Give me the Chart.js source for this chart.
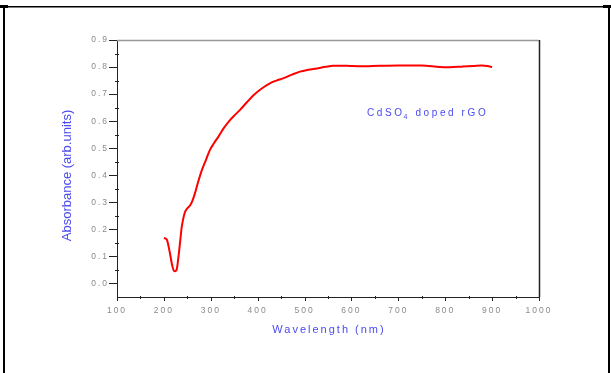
<!DOCTYPE html>
<html>
<head>
<meta charset="utf-8">
<script src="https://cdn.jsdelivr.net/npm/chart.js@4"></script>
<style>
  html, body { margin: 0; padding: 0; background: #fff; }
  #wrap { width: 611px; height: 373px; }
</style>
</head>
<body>
<div id="wrap"><canvas id="chart" width="611" height="373"></canvas></div>
<script>
// data
const wavelength = [200, 206, 212, 218, 222, 227, 231, 235, 238, 242, 245, 250, 256, 261, 266, 273, 281, 290, 298, 307, 316, 328, 341, 352, 362, 376, 391, 408, 426, 440, 454, 472, 490, 508, 526, 545, 561, 580, 597, 620, 661, 700, 750, 788, 810, 838, 860, 878, 890, 900];
const absorbance = [0.168, 0.163, 0.12, 0.065, 0.045, 0.05, 0.097, 0.16, 0.208, 0.245, 0.264, 0.278, 0.289, 0.306, 0.332, 0.375, 0.419, 0.458, 0.493, 0.519, 0.542, 0.575, 0.604, 0.624, 0.641, 0.668, 0.696, 0.72, 0.74, 0.75, 0.758, 0.771, 0.783, 0.79, 0.795, 0.801, 0.805, 0.805, 0.804, 0.803, 0.805, 0.806, 0.806, 0.8, 0.799, 0.802, 0.804, 0.806, 0.804, 0.8];

const xMin = 100, xMax = 1000, xStep = 50;
const yMin = -0.05, yMax = 0.9, yStep = 0.05;
const xTitle = 'Wavelength (nm)';
const yTitle = 'Absorbance (arb.units)';
const seriesName = 'CdSO4 doped rGO';
const noteAt = { x: 633, y: 0.63 };

const blue = '#4a4af0';
const tickGrey = '#8a8a8a';
const fontFam = '"Liberation Sans", Arial, sans-serif';

// ticks, frame, axis titles and the sample note
const extras = {
  id: 'extras',
  beforeDraw(chart) {
    // wide spacing for the tick numbers, like the original
    chart.ctx.letterSpacing = '2px';
  },
  afterDraw(chart) {
    const { ctx, chartArea: a, scales: { x, y } } = chart;
    ctx.save();
    ctx.letterSpacing = '0px';

    // top (grey) and right (black) sides of the plot box
    ctx.lineWidth = 1.5;
    ctx.strokeStyle = '#999';
    ctx.beginPath();
    ctx.moveTo(a.left, a.top + 0.5);
    ctx.lineTo(a.right, a.top + 0.5);
    ctx.stroke();
    ctx.strokeStyle = '#222';
    ctx.beginPath();
    ctx.moveTo(a.right + 0.5, a.top);
    ctx.lineTo(a.right + 0.5, a.bottom);
    ctx.stroke();

    // tick marks
    ctx.lineWidth = 1;
    ctx.strokeStyle = '#222';
    for (let v = xMin; v <= xMax; v += xStep) {
      const px = Math.round(x.getPixelForValue(v)) + 0.5;
      const major = v % 100 === 0;
      ctx.beginPath();
      ctx.moveTo(px, a.bottom - (major ? 0 : 1));
      ctx.lineTo(px, a.bottom + (major ? 4 : 2));
      ctx.stroke();
    }
    for (let i = 1; i <= 19; i++) {
      const v = yMin + i * yStep;
      const py = Math.round(y.getPixelForValue(v)) + 0.5;
      const major = i % 2 === 1;
      ctx.beginPath();
      ctx.moveTo(a.left - (major ? 8 : 2), py);
      ctx.lineTo(a.left + (major ? 0 : 2), py);
      ctx.stroke();
    }

    ctx.fillStyle = blue;
    ctx.textBaseline = 'middle';

    // x title
    ctx.textAlign = 'center';
    ctx.letterSpacing = '2px';
    ctx.font = '11px ' + fontFam;
    ctx.fillText(xTitle, (a.left + a.right) / 2 + 1, a.bottom + 33);

    // y title
    ctx.save();
    ctx.translate(67, (a.top + a.bottom) / 2 + 7);
    ctx.rotate(-Math.PI / 2);
    ctx.letterSpacing = '0px';
    ctx.font = '13px ' + fontFam;
    ctx.fillText(yTitle, 0, 0);
    ctx.restore();

    // sample note with subscript
    ctx.textAlign = 'left';
    ctx.letterSpacing = '2.6px';
    ctx.font = '10px ' + fontFam;
    let nx = x.getPixelForValue(noteAt.x);
    const ny = y.getPixelForValue(noteAt.y);
    const main = seriesName.slice(0, 4);
    const sub = seriesName.slice(4, 5);
    const rest = seriesName.slice(5);
    ctx.fillText(main, nx, ny);
    nx += ctx.measureText(main).width;
    ctx.font = '7px ' + fontFam;
    ctx.fillText(sub, nx - 1, ny + 4);
    nx += ctx.measureText(sub).width - 1;
    ctx.font = '10px ' + fontFam;
    ctx.fillText(rest, nx, ny);

    // page borders
    ctx.letterSpacing = '0px';
    ctx.fillStyle = '#000';
    ctx.fillRect(0, 6, 611, 1.5);
    ctx.fillRect(0, 5, 8, 3);
    ctx.fillRect(603, 5, 8, 3);
    ctx.fillRect(3, 6, 2, 367);
    ctx.fillRect(608, 6, 2, 367);
    ctx.restore();
  }
};

const chart = new Chart(document.getElementById('chart'), {
  type: 'line',
  data: {
    datasets: [{
      label: seriesName,
      data: wavelength.map((w, i) => ({ x: w, y: absorbance[i] })),
      borderColor: '#ff0000',
      borderWidth: 2,
      pointRadius: 0,
      cubicInterpolationMode: 'monotone',
      fill: false
    }]
  },
  options: {
    responsive: false,
    animation: false,
    layout: { padding: { left: 54, top: 40, right: 72, bottom: 33 } },
    plugins: {
      legend: { display: false },
      tooltip: { enabled: false }
    },
    scales: {
      x: {
        type: 'linear',
        min: xMin,
        max: xMax,
        afterFit: s => { s.height = 43; },
        border: { display: true, color: '#222', width: 1 },
        grid: { display: true, drawOnChartArea: false, drawTicks: false },
        ticks: {
          stepSize: xStep,
          autoSkip: false,
          maxRotation: 0,
          padding: 9,
          color: tickGrey,
          font: { family: fontFam, size: 8.5 },
          callback: v => (v % 100 === 0 ? String(v) : '')
        }
      },
      y: {
        type: 'linear',
        min: yMin,
        max: yMax,
        afterFit: s => { s.width = 117 - 54; },
        border: { display: true, color: '#222', width: 1 },
        grid: { display: true, drawOnChartArea: false, drawTicks: false },
        ticks: {
          stepSize: yStep,
          autoSkip: false,
          padding: 8,
          color: tickGrey,
          font: { family: fontFam, size: 8.5 },
          callback: v => {
            const n = Math.round(v * 100);
            return n >= 0 && n % 10 === 0 ? (n / 100).toFixed(1) : '';
          }
        }
      }
    }
  },
  plugins: [extras]
});
</script>
</body>
</html>
